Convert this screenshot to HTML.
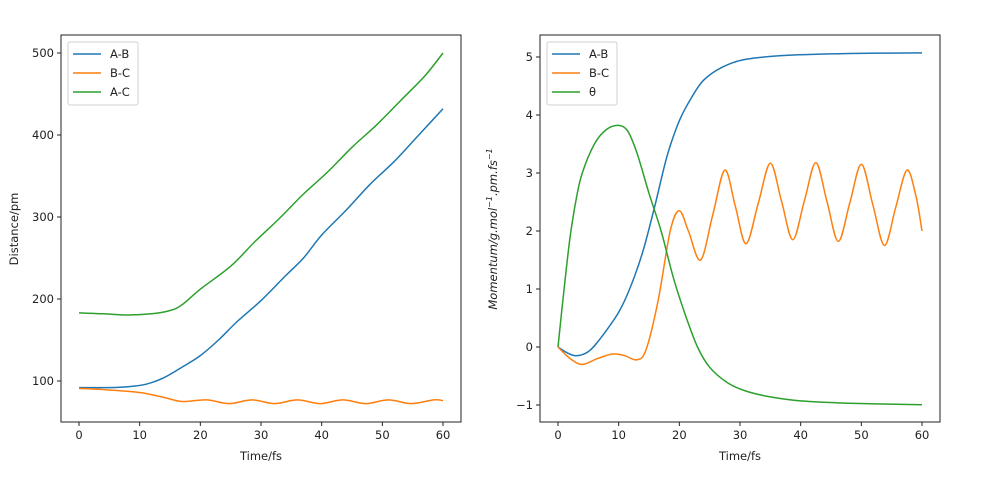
<!DOCTYPE html>
<html><head><meta charset="utf-8"><style>
body{margin:0;background:#fff}
svg text{font-family:"DejaVu Sans","Liberation Sans",sans-serif;font-size:11.5px;fill:#222}
</style></head><body>
<svg id="s" width="983" height="476" xmlns="http://www.w3.org/2000/svg"></svg>
<script>
const S=document.getElementById('s');let h='';
function cr(pts){
 let d='M'+pts[0][0].toFixed(1)+','+pts[0][1].toFixed(1);
 for(let i=0;i<pts.length-1;i++){const p0=pts[i-1]||pts[i],p1=pts[i],p2=pts[i+1],p3=pts[i+2]||p2;
  d+=' C'+(p1[0]+(p2[0]-p0[0])/6).toFixed(1)+','+(p1[1]+(p2[1]-p0[1])/6).toFixed(1)+' '+(p2[0]-(p3[0]-p1[0])/6).toFixed(1)+','+(p2[1]-(p3[1]-p1[1])/6).toFixed(1)+' '+p2[0].toFixed(1)+','+p2[1].toFixed(1);}
 return d;}
function axes(x0,x1,y0,y1,xm,ym,yt,ylab,xlab,leg){
 h+=`<rect x="${x0}" y="${y0}" width="${x1-x0}" height="${y1-y0}" fill="none" stroke="#222" stroke-width="1"/>`;
 for(let t=0;t<=60;t+=10){const x=xm(t);h+=`<line x1="${x}" y1="${y1}" x2="${x}" y2="${y1+4}" stroke="#222"/><text x="${x}" y="${y1+17}" text-anchor="middle">${t}</text>`;}
 yt.forEach(([v,l])=>{const y=ym(v);h+=`<line x1="${x0-4}" y1="${y}" x2="${x0}" y2="${y}" stroke="#222"/><text x="${x0-7}" y="${y+4}" text-anchor="end">${l}</text>`;});
 h+=`<text x="${(x0+x1)/2}" y="${y1+38}" text-anchor="middle">${xlab}</text>`;
 h+=ylab;
 h+=`<rect x="${x0+7}" y="${y0+7}" width="70" height="63" rx="2" fill="#fff" stroke="#ccc" opacity="0.9"/>`;
 const c=['#1f77b4','#ff7f0e','#2ca02c'];
 leg.forEach((l,i)=>{const y=y0+19+i*19;h+=`<line x1="${x0+12}" y1="${y}" x2="${x0+40}" y2="${y}" stroke="${c[i]}" stroke-width="1.5"/><text x="${x0+49}" y="${y+4}">${l}</text>`;});
}
function line(pts,xm,ym,c){h+=`<path d="${cr(pts.map(p=>[xm(p[0]),ym(p[1])]))}" fill="none" stroke="${c}" stroke-width="1.5"/>`;}
const lx=t=>79+t*6.067, ly=v=>381-(v-100)*0.82;
axes(61,461,35,422,lx,ly,[[100,100],[200,200],[300,300],[400,400],[500,500]],`<text transform="translate(18,229) rotate(-90)" text-anchor="middle">Distance/pm</text>`,'Time/fs',['A-B','B-C','A-C']);
line([[0,92],[5,92],[8,93],[11,96],[14,104],[17,117],[20,131],[23,150],[26,172],[30,198],[34,228],[37,250],[40,278],[44,308],[48,340],[52,368],[56,400],[60,432]],lx,ly,'#1f77b4');
let bc=[[0,91],[5,89],[10,86],[14,80],[17,75]];
for(let t=21,k=0;t<=60;t+=3.75,k++)bc.push([t,k%2?72.5:77]);bc.push([60,76]);
line(bc,lx,ly,'#ff7f0e');
line([[0,183],[4,182],[8,180.5],[12,182],[15,186],[17,193],[20,212],[25,240],[29,270],[33,298],[37,328],[41,355],[45,385],[49,412],[53,442],[57,472],[60,500]],lx,ly,'#2ca02c');
const rx=t=>558+t*6.067, ry=v=>347-v*58;
axes(540,940,35,422,rx,ry,[[-1,'\u22121'],[0,0],[1,1],[2,2],[3,3],[4,4],[5,5]],`<text transform="translate(497,229) rotate(-90)" text-anchor="middle" font-style="italic">Momentum/g.mol<tspan dy="-5" font-size="8">−1</tspan><tspan dy="5">.pm.fs</tspan><tspan dy="-5" font-size="8">−1</tspan></text>`,'Time/fs',['A-B','B-C','θ']);
line([[0,0],[1.5,-0.1],[3,-0.15],[5,-0.08],[7,0.15],[10,0.6],[12,1.05],[14,1.65],[16,2.45],[18,3.3],[20,3.9],[22,4.3],[24,4.6],[27,4.82],[31,4.96],[38,5.03],[48,5.06],[60,5.07]],rx,ry,'#1f77b4');
let br=[[0,0],[2,-0.2],[4,-0.3],[6.5,-0.2],[9,-0.12],[11,-0.15],[13,-0.22],[14.5,-0.05],[16.5,0.8],[18.5,2.0],[20,2.35],[21.5,2.0],[23.5,1.5]];
const ex=[[27.5,3.05],[31,1.78],[35,3.17],[38.7,1.85],[42.5,3.18],[46.2,1.82],[50,3.15],[53.8,1.75],[57.5,3.05]];
let prev=[23.5,1.5];
ex.forEach(e=>{br.push([(prev[0]+e[0])/2,(prev[1]+e[1])/2]);br.push(e);prev=e;});
br.push([59,2.6]);br.push([60,2.0]);
line(br,rx,ry,'#ff7f0e');
line([[0,0],[1,1.0],[2,1.9],[3,2.55],[4,3.0],[6,3.5],[8,3.75],[10,3.82],[11.5,3.72],[13,3.35],[15,2.65],[17,2.0],[19,1.2],[21,0.55],[23,0.0],[25,-0.35],[28,-0.62],[31,-0.76],[35,-0.86],[40,-0.93],[48,-0.97],[60,-0.995]],rx,ry,'#2ca02c');
S.innerHTML=h;
</script>
</body></html>
